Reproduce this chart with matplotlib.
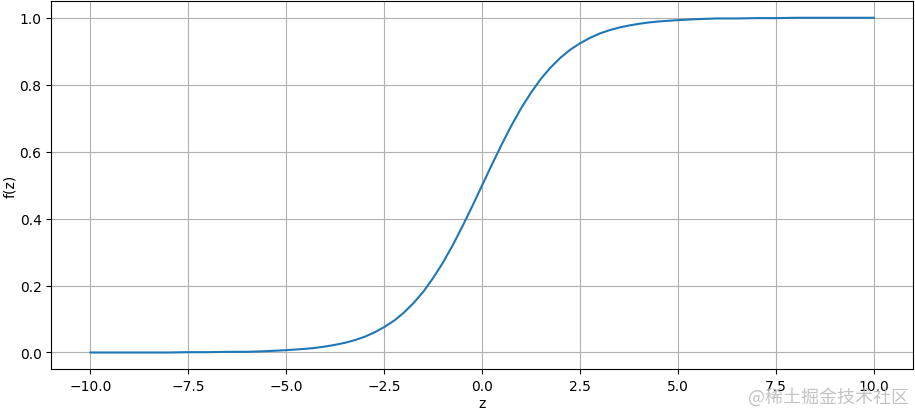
import matplotlib
matplotlib.use("Agg")
import matplotlib.pyplot as plt

# values: every 0.5 in the flat tails, every 0.25 in the middle
z = [-10.0, -9.5, -9.0, -8.5, -8.0, -7.5, -7.0, -6.5, -6.0, -5.5,
     -5.0, -4.75, -4.5, -4.25, -4.0, -3.75, -3.5, -3.25, -3.0, -2.75,
     -2.5, -2.25, -2.0, -1.75, -1.5, -1.25, -1.0, -0.75, -0.5, -0.25,
     0.0, 0.25, 0.5, 0.75, 1.0, 1.25, 1.5, 1.75, 2.0, 2.25,
     2.5, 2.75, 3.0, 3.25, 3.5, 3.75, 4.0, 4.25, 4.5, 4.75,
     5.0, 5.5, 6.0, 6.5, 7.0, 7.5, 8.0, 8.5, 9.0, 9.5, 10.0]
fz = [0.000, 0.000, 0.000, 0.000, 0.000, 0.001, 0.001, 0.002, 0.002, 0.004,
      0.007, 0.009, 0.011, 0.014, 0.018, 0.023, 0.029, 0.037, 0.047, 0.060,
      0.076, 0.095, 0.119, 0.148, 0.182, 0.223, 0.269, 0.321, 0.378, 0.438,
      0.500, 0.562, 0.622, 0.679, 0.731, 0.777, 0.818, 0.852, 0.881, 0.905,
      0.924, 0.940, 0.953, 0.963, 0.971, 0.977, 0.982, 0.986, 0.989, 0.991,
      0.993, 0.996, 0.998, 0.998, 0.999, 0.999, 1.000, 1.000, 1.000, 1.000, 1.000]

fig, ax = plt.subplots(figsize=(9.15, 4.1), dpi=100)
fig.subplots_adjust(left=0.056, right=0.998, top=0.995, bottom=0.097)

ax.plot(z, fz, color="#1f77b4", linewidth=1.5)
ax.set_xlabel("z", labelpad=2)
ax.set_ylabel("f(z)", labelpad=2)
ax.grid(True)

# site watermark in the lower right corner
fig.text(0.993, 0.008, "@稀土掘金技术社区", ha="right", va="bottom",
         fontsize=13, color="#bdbdbd", alpha=0.9,
         family=["Noto Sans CJK SC", "DejaVu Sans"])

fig.savefig("out.png", dpi=100)
